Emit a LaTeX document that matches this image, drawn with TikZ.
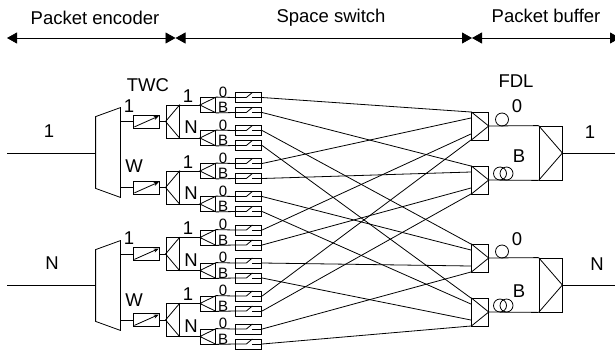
\documentclass[tikz,border=0pt]{standalone}
\usepackage{fontspec}
\setmainfont{Liberation Sans}
\usetikzlibrary{arrows.meta, calc}

\begin{document}
\begin{tikzpicture}[x=1pt, y=-1pt, line width=0.8pt]
    \tikzstyle{box} = [rectangle, draw, inner sep=0pt]
    \tikzstyle{twcbox} = [box, minimum width=26.5pt, minimum height=13pt]
    \tikzstyle{splitbox} = [box, minimum width=13.5pt, minimum height=33pt]
    \tikzstyle{selbox} = [box, minimum width=15.5pt, minimum height=15pt]
    \tikzstyle{gatebox} = [box, minimum width=26.5pt, minimum height=10pt]
    \tikzstyle{combbox} = [box, minimum width=17pt, minimum height=28pt]
    \tikzstyle{outbox} = [box, minimum width=23pt, minimum height=54pt]
    \tikzstyle{encbox} = [rectangle, inner sep=0pt, minimum width=24pt, minimum height=89pt]
    \tikzstyle{fdl} = [circle, draw, inner sep=0pt, minimum size=13pt]
    \tikzstyle{lbl} = [inner sep=0pt, font=\fontsize{18.5}{20}\selectfont]
    \tikzstyle{small} = [inner sep=0pt, font=\fontsize{15}{16}\selectfont]
    \tikzstyle{span} = [{Triangle[length=10pt,width=11pt]}-{Triangle[length=10pt,width=11pt]}]

    \useasboundingbox (0,0) rectangle (615,349);

    % section headers
    \node [lbl] (hdrenc) at (95,18) {Packet encoder};
    \node [lbl] (hdrsw) at (331,18) {Space switch};
    \node [lbl] (hdrbuf) at (546,16) {Packet buffer};
    \coordinate (m0) at (7,38);
    \coordinate (m1) at (175.5,38);
    \coordinate (m2) at (472,38);
    \coordinate (m3) at (620,38);
    \draw[span] (m0) -- (m1);
    \draw[span] (m1) -- (m2);
    \draw[span] (m2) -- (m3);

    % encoders
    \node [encbox] (enc1) at (108,152.5) {};
    \node [encbox] (enc2) at (108,285.5) {};
    \foreach \e in {1,2} {
        \draw (enc\e.north east) -- (enc\e.south east) -- ($(enc\e.south west)+(0,-9)$)
            -- ($(enc\e.north west)+(0,9)$) -- cycle;
    }
    \coordinate (in1) at (7,153);
    \coordinate (in2) at (7,285);
    \draw (in1) -- (in1 -| enc1.west);
    \draw (in2) -- (in2 -| enc2.west);
    \node [lbl] (inlbl1) at (49,131) {1};
    \node [lbl] (inlbl2) at (52,263) {N};
    \node [lbl] (twclbl) at (148,85) {TWC};
    \node [lbl] (wl1) at (129,106) {1};
    \node [lbl] (wl2) at (134,166) {W};
    \node [lbl] (wl3) at (129,238) {1};
    \node [lbl] (wl4) at (134,300) {W};

    % converters, splitters, gates
    \foreach \i/\y/\e in {1/121.5/1, 2/187.5/1, 3/254/2, 4/320/2} {
        \node [twcbox] (twc\i) at (146.5,\y) {};
        \draw[-{Stealth[length=5pt,width=4pt]}] ($(twc\i.south west)+(1.5,-1.5)$) -- ($(twc\i.north east)+(-1.5,1.5)$);
        \draw (twc\i.west) -- (twc\i.west -| enc\e.east);
        \node [splitbox] (split\i) at (172.7,\y) {};
        \draw (twc\i.east) -- (split\i.west);
        \draw (split\i.north east) -- (split\i.west) -- (split\i.south east);
        \node [lbl] (one\i) at (188,{\y-25.5}) {1};
        \node [lbl] (enn\i) at (191,{\y+6}) {N};
        \foreach \j/\d in {1/-16.5, 2/16.5} {
            \pgfmathtruncatemacro\s{2*(\i-1)+\j}
            \node [selbox] (sel\s) at (208,{\y+\d}) {};
            \draw (sel\s.north east) -- (sel\s.west) -- (sel\s.south east);
            \draw (sel\s.west) -- (sel\s.west -| split\i.east);
            \node [small] (zero\s) at (223,{\y+\d-13}) {0};
            \node [small] (bee\s) at (223,{\y+\d+2.5}) {B};
            \foreach \k/\f in {1/-7.5, 2/7.5} {
                \pgfmathtruncatemacro\n{2*(\s-1)+\k}
                \node [gatebox] (gate\n) at (248.5,{\y+\d+\f}) {};
                \draw (gate\n.west) -- ++(11.5,0) -- ++(6,-5);
                \draw (gate\n.east) -- ++(-10,0);
            }
            \draw (sel\s.north east) -- (gate\the\numexpr2*\s-1\relax.west);
            \draw (sel\s.south east) -- (gate\the\numexpr2*\s\relax.west);
        }
    }

    % combiners and output stage
    \foreach \c/\y in {1/126, 2/180, 3/258, 4/312} {
        \node [combbox] (comb\c) at (479.8,\y) {};
        \draw (comb\c.north west) -- (comb\c.east) -- (comb\c.south west);
        \foreach \p/\o in {1/-14, 2/-8, 3/8, 4/14} {
            \coordinate (comb\c p\p) at ($(comb\c.west)+(0,\o)$);
        }
    }
    \foreach \c in {1,...,4} {
        \foreach \p in {1,...,4} {
            \pgfmathtruncatemacro\k{(\p-1)*4+\c}
            \draw (gate\k.east) -- (comb\c p\p);
        }
    }
    \node [outbox] (out1) at (550.5,153) {};
    \node [outbox] (out2) at (550.5,285) {};
    \draw (comb1.east) -- (out1.north west);
    \draw (comb2.east) -- (out1.south west);
    \draw (comb3.east) -- (out2.north west);
    \draw (comb4.east) -- (out2.south west);
    \coordinate (end1) at (615,153);
    \coordinate (end2) at (615,285);
    \foreach \o in {1,2} {
        \draw (out\o.north west) -- (out\o.east) -- (out\o.south west);
        \draw (out\o.east) -- (end\o);
    }

    % delay lines
    \node [fdl] (fdla) at (502,119.5) {};
    \node [fdl] (fdlb) at (500,173.5) {};
    \node [fdl] (fdlc) at (506.5,173.5) {};
    \node [fdl] (fdld) at (502,251.5) {};
    \node [fdl] (fdle) at (500,305.5) {};
    \node [fdl] (fdlf) at (506.5,305.5) {};
    \node [lbl] (fdllbl) at (516,81) {FDL};
    \node [lbl] (dl0a) at (517,106) {0};
    \node [lbl] (dlba) at (519,156) {B};
    \node [lbl] (dl0b) at (517,239) {0};
    \node [lbl] (dlbb) at (519,291) {B};
    \node [lbl] (outlbl1) at (590,132) {1};
    \node [lbl] (outlbl2) at (597,264) {N};
\end{tikzpicture}
\end{document}
